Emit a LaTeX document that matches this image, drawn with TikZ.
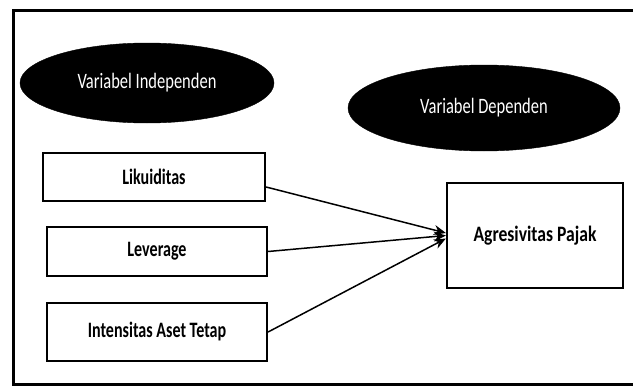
\documentclass[tikz,border=0pt]{standalone}
\usepackage{fontspec}
\usepackage{graphicx}
\setmainfont{Carlito}
\newcommand\squeezeA[1]{\scalebox{0.75}[1]{#1}}
\newcommand\squeezeB[1]{\scalebox{0.73}[1]{#1}}
\newcommand\squeezeC[1]{\scalebox{0.8}[1]{#1}}
\usetikzlibrary{shapes.geometric,arrows.meta}
\tikzset{
  varell/.style={ellipse,fill=black,draw=black,inner sep=0pt,text=white,
    font=\fontsize{22}{24}\selectfont},
  vbox/.style={rectangle,draw=black,line width=2.2pt,fill=white,inner sep=0pt,
    font=\bfseries\fontsize{22}{24}\selectfont},
  link/.style={line width=1.5pt,-{Stealth[length=12pt,width=10pt]}},
  frame/.style={line width=3pt}
}
\begin{document}
\begin{tikzpicture}[x=1pt,y=-1pt]
\useasboundingbox (0,0) rectangle (633,388);
\fill[white] (0,0) rectangle (633,388);
\coordinate (ftr) at (640,10);
\coordinate (ftl) at (13,10);
\coordinate (fbl) at (13,384);
\coordinate (fbr) at (640,384);
\draw[frame] (ftr) -- (ftl) -- (fbl) -- (fbr);
\node[varell,minimum width=254pt,minimum height=80pt] (ind) at (147,83) {\squeezeA{Variabel Independen}};
\node[varell,minimum width=272pt,minimum height=86pt] (dep) at (484,108) {\squeezeA{Variabel Dependen}};
\node[vbox,minimum width=222pt,minimum height=48pt] (lik) at (154,177) {\squeezeB{Likuiditas}};
\node[vbox,minimum width=220pt,minimum height=49pt] (lev) at (157,251.5) {\squeezeB{Leverage}};
\node[vbox,minimum width=220pt,minimum height=58pt] (ita) at (157,332) {\squeezeB{Intensitas Aset Tetap}};
\node[vbox,minimum width=176pt,minimum height=105pt] (agr) at (535,235.5) {\squeezeC{Agresivitas Pajak}};
\draw[link] ([yshift=-10pt]lik.east) -- ([yshift=2.5pt]agr.west);
\draw[link] (lev.east) -- ([yshift=0pt]agr.west);
\draw[link] (ita.east) -- ([yshift=-3pt]agr.west);
\end{tikzpicture}
\end{document}
